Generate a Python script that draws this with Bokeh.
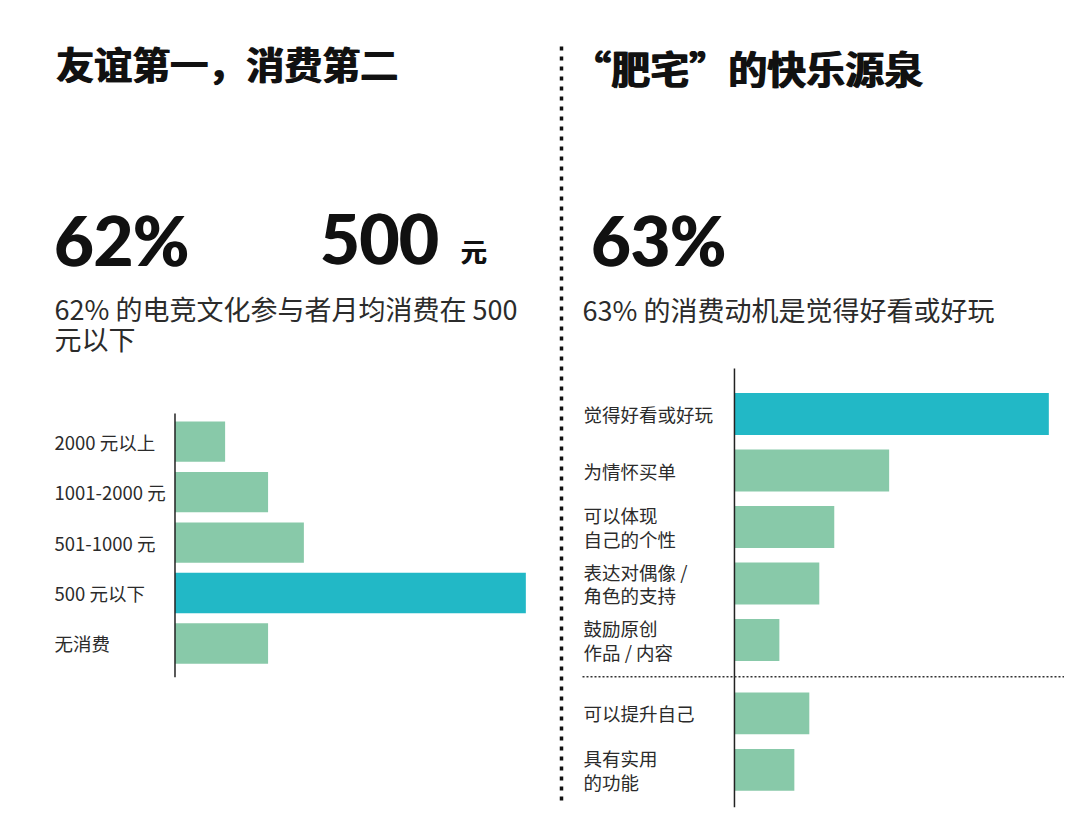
from bokeh.plotting import figure
from bokeh.models import Range1d, ColumnDataSource
from bokeh.core.properties import value
from bokeh.embed import file_html
from bokeh.resources import INLINE

# ---------------- data ----------------
left_title = "友谊第一，消费第二"
right_title = "“肥宅”的快乐源泉"
left_big = "62%"
left_big2 = "500"
left_big2_unit = "元"
right_big = "63%"
left_sub = ["62% 的电竞文化参与者月均消费在 500", "元以下"]
right_sub = ["63% 的消费动机是觉得好看或好玩"]

spend_labels = ["2000 元以上", "1001-2000 元", "501-1000 元", "500 元以下", "无消费"]
spend_pct = [7, 13, 18, 49, 13]

motive_labels = ["觉得好看或好玩", "为情怀买单", "可以体现\n自己的个性", "表达对偶像 /\n角色的支持",
                 "鼓励原创\n作品 / 内容", "可以提升自己", "具有实用\n的功能"]
motive_pct = [63, 31, 20, 17, 9, 15, 12]
motive_group = [1, 1, 1, 1, 1, 2, 2]

# ---------------- styles ----------------
TEAL = "#22B8C6"
GREEN = "#88C9A9"
INK = "#111111"
TXT = "#2b2b2b"
CJK = value("Noto Sans CJK SC")
NUMF = value("Lato")

p = figure(width=1064, height=815, x_range=Range1d(0, 1064), y_range=Range1d(815, 0),
           output_backend="svg", toolbar_location=None, min_border=0,
           x_axis_location=None, y_axis_location=None, tools="")
p.grid.visible = False
p.outline_line_color = None
p.background_fill_color = "white"
p.border_fill_color = "white"

p.extra_x_ranges = {"lx": Range1d(-24.37, 124.23), "rx": Range1d(-147.09, 66.14)}
p.extra_y_ranges = {"ly": Range1d(7.41, -8.745), "ry": Range1d(7.106, -7.319)}

# ---------------- left bar chart ----------------
l_idx = list(range(len(spend_labels)))
l_max = max(spend_pct)
l_src = ColumnDataSource(dict(
    y=l_idx, v=spend_pct, label=spend_labels,
    color=[TEAL if v == l_max else GREEN for v in spend_pct]))
p.hbar(y="y", left=0, right="v", height=0.8, fill_color="color", line_color=None,
       source=l_src, x_range_name="lx", y_range_name="ly")
p.segment(x0=0, x1=0, y0=-0.56, y1=len(spend_labels) - 0.33, line_color="#222222",
          line_width=1.5, x_range_name="lx", y_range_name="ly")
p.text(x=54, y="y", text="label", source=l_src, y_range_name="ly",
       text_font=CJK, text_font_size="18.5px", text_color=TXT,
       text_baseline="middle", text_align="left")

# ---------------- right bar chart ----------------
r_pos = []
off = 0.0
for i, g in enumerate(motive_group):
    if i > 0 and g != motive_group[i - 1]:
        off += 0.3
    r_pos.append(i + off)
r_max = max(motive_pct)
r_src = ColumnDataSource(dict(
    y=r_pos, v=motive_pct,
    color=[TEAL if v == r_max else GREEN for v in motive_pct]))
p.hbar(y="y", left=0, right="v", height=0.74, fill_color="color", line_color=None,
       source=r_src, x_range_name="rx", y_range_name="ry")
p.segment(x0=0, x1=0, y0=-0.805, y1=r_pos[-1] + 0.66, line_color="#222222",
          line_width=1.5, x_range_name="rx", y_range_name="ry")

# multi-line category labels, one text per line
LINE_STEP = 23.3 / 56.5
lab_y, lab_t = [], []
for pos, lab in zip(r_pos, motive_labels):
    lines = lab.split("\n")
    n = len(lines)
    for j, line in enumerate(lines):
        lab_y.append(pos + (j - (n - 1) / 2) * LINE_STEP)
        lab_t.append(line)
p.text(x=583, y=lab_y, text=lab_t, y_range_name="ry",
       text_font=CJK, text_font_size="18.5px", text_color=TXT,
       text_baseline="middle", text_align="left")

# separator between groups
brk = [i for i in range(1, len(motive_group)) if motive_group[i] != motive_group[i - 1]][0]
sep_y = (r_pos[brk - 1] + r_pos[brk]) / 2
p.segment(x0=582, x1=1068, y0=sep_y, y1=sep_y, line_color="#333333", line_width=1.5,
          line_dash="2 2", y_range_name="ry")

# vertical dotted divider
p.segment(x0=561, x1=561, y0=46, y1=800, line_color=INK, line_width=3.5, line_dash="4 6")


# ---------------- titles & headline numbers ----------------
def heavy_text(x, y, txt, font, size, baseline, spread=1.2):
    # drawn twice with a small offset to imitate a black (extra heavy) weight
    for dx in (0, spread):
        p.text(x=[x + dx], y=[y], text=[txt], text_font=font, text_font_style="bold",
               text_font_size=size, text_color=INK, text_baseline=baseline)


heavy_text(55, 61.5, left_title, CJK, "38px", "middle", 1.4)
heavy_text(571, 66.5, right_title, CJK, "39px", "middle", 1.4)

heavy_text(53, 238.5, left_big, NUMF, "68px", "alphabetic", 1.5)
heavy_text(319, 238.5, left_big2, NUMF, "68px", "alphabetic", 1.5)
heavy_text(460, 250, left_big2_unit, CJK, "26px", "middle", 0.8)
heavy_text(590, 238.5, right_big, NUMF, "68px", "alphabetic", 1.5)

for k, line in enumerate(left_sub):
    p.text(x=[54], y=[308 + 30 * k], text=[line], text_font=CJK, text_font_size="27px",
           text_color=TXT, text_baseline="middle")
for k, line in enumerate(right_sub):
    p.text(x=[582], y=[309 + 30 * k], text=[line], text_font=CJK, text_font_size="27px",
           text_color=TXT, text_baseline="middle")

open("out.html", "w").write(file_html(p, INLINE))
